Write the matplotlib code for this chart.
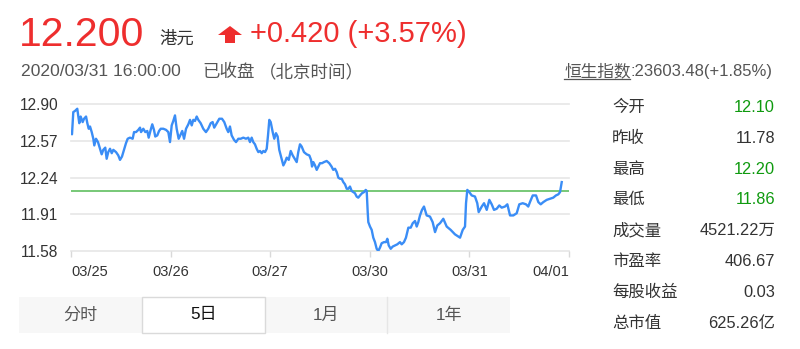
import matplotlib
matplotlib.use("Agg")
import matplotlib.pyplot as plt
from matplotlib.patches import Rectangle, Polygon
from matplotlib.lines import Line2D

plt.rcParams['font.family'] = ['Liberation Sans', 'Noto Sans CJK SC', 'DejaVu Sans']

# ---------------- data ----------------
price_now = "12.200"
currency = "港元"
change_text = "+0.420 (+3.57%)"
timestamp = "2020/03/31 16:00:00"
status = "已收盘"
tz_note = "（北京时间）"
index_name = "恒生指数"
index_value = ":23603.48(+1.85%)"

day_labels = ["03/25", "03/26", "03/27", "03/30", "03/31", "04/01"]
y_ticks = [11.58, 11.91, 12.24, 12.57, 12.90]
ref_price = 12.12

d1_t = [0.000,0.010,0.023,0.040,0.063,0.083,0.097,0.117,0.131,0.151,
        0.164,0.178,0.191,0.208,0.224,0.234,0.251,0.271,0.291,0.308,
        0.324,0.344,0.358,0.374,0.392,0.409,0.425,0.452,0.475,0.492,
        0.512,0.532,0.552,0.569,0.592,0.619,0.633,0.653,0.676,0.693,
        0.703,0.726,0.746,0.766,0.780,0.800,0.816,0.833,0.846,0.866,
        0.884,0.901,0.927,0.954,0.977,0.994]
d1_p = [12.64,12.63,12.83,12.84,12.86,12.73,12.79,12.74,12.77,12.79,
        12.73,12.68,12.70,12.65,12.59,12.53,12.59,12.56,12.50,12.45,
        12.49,12.51,12.41,12.47,12.50,12.46,12.49,12.47,12.44,12.40,
        12.43,12.49,12.55,12.59,12.60,12.59,12.65,12.65,12.67,12.69,
        12.65,12.68,12.65,12.66,12.60,12.67,12.72,12.67,12.61,12.62,
        12.66,12.68,12.68,12.67,12.65,12.56]
d2_t = [1.011,1.027,1.044,1.061,1.081,1.101,1.117,1.135,1.155,1.178,
        1.195,1.212,1.228,1.245,1.262,1.278,1.302,1.328,1.355,1.378,
        1.403,1.422,1.438,1.463,1.489,1.516,1.539,1.563,1.579,1.596,
        1.613,1.637,1.657,1.680,1.704,1.730,1.757,1.780,1.797,1.814,
        1.830,1.847,1.864,1.881,1.898,1.915,1.931,1.948,1.965,1.978]
d2_p = [12.71,12.75,12.80,12.68,12.59,12.63,12.66,12.59,12.68,12.72,
        12.76,12.71,12.76,12.75,12.79,12.76,12.73,12.68,12.65,12.68,
        12.73,12.74,12.69,12.73,12.77,12.77,12.74,12.68,12.65,12.70,
        12.62,12.58,12.56,12.59,12.59,12.60,12.59,12.60,12.56,12.60,
        12.56,12.54,12.50,12.47,12.48,12.46,12.48,12.47,12.50,12.62]
d3_t = [1.991,2.005,2.025,2.041,2.058,2.075,2.091,2.115,2.132,2.149,
        2.166,2.186,2.206,2.226,2.246,2.266,2.282,2.299,2.316,2.339,
        2.366,2.393,2.410,2.420,2.433,2.450,2.467,2.483,2.500,2.520,
        2.540,2.567,2.593,2.616,2.633,2.651,2.668,2.684,2.701,2.718,
        2.734,2.751,2.768,2.784,2.801,2.818,2.834,2.851,2.868,2.884,
        2.902,2.922,2.942,2.959,2.969]
d3_p = [12.76,12.74,12.65,12.59,12.64,12.61,12.49,12.41,12.35,12.38,
        12.42,12.40,12.48,12.44,12.41,12.38,12.47,12.54,12.52,12.47,
        12.45,12.44,12.40,12.34,12.38,12.35,12.31,12.34,12.37,12.37,
        12.38,12.39,12.37,12.34,12.31,12.32,12.29,12.24,12.23,12.23,
        12.20,12.18,12.14,12.14,12.16,12.12,12.11,12.10,12.07,12.06,
        12.08,12.10,12.11,12.13,12.12]
d4_t = [2.979,2.985,3.002,3.019,3.035,3.052,3.069,3.085,3.102,3.119,
        3.143,3.163,3.176,3.190,3.210,3.230,3.253,3.276,3.303,3.320,
        3.343,3.363,3.387,3.411,3.431,3.454,3.471,3.487,3.504,3.524,
        3.544,3.571,3.604,3.631,3.655,3.678,3.705,3.738,3.772,3.812,
        3.855,3.889,3.906,3.933,3.956,3.966,3.979]
d4_p = [11.93,11.84,11.80,11.77,11.70,11.66,11.60,11.58,11.61,11.65,
        11.66,11.66,11.69,11.63,11.60,11.62,11.63,11.64,11.66,11.64,
        11.66,11.70,11.79,11.79,11.83,11.85,11.80,11.84,11.90,11.95,
        11.98,11.90,11.89,11.84,11.75,11.81,11.83,11.87,11.80,11.77,
        11.73,11.71,11.70,11.77,11.80,12.01,12.13]
d5_t = [3.999,4.023,4.056,4.079,4.093,4.124,4.147,4.174,4.200,4.224,
        4.247,4.274,4.300,4.324,4.357,4.381,4.408,4.441,4.475,4.501,
        4.535,4.568,4.591,4.608,4.636,4.669,4.692,4.716,4.742,4.776,
        4.809,4.842,4.869,4.893,4.910,4.927]
d5_p = [12.11,12.08,12.07,12.01,11.93,11.98,12.01,11.95,12.04,12.00,
        11.95,11.96,11.99,11.97,11.98,12.00,11.90,11.90,11.92,12.00,
        12.01,12.00,11.98,12.02,12.08,12.08,12.02,12.00,12.02,12.04,
        12.05,12.06,12.08,12.09,12.11,12.20]

stat_labels = ["今开", "昨收", "最高", "最低", "成交量", "市盈率", "每股收益", "总市值"]
stat_values = ["12.10", "11.78", "12.20", "11.86", "4521.22万", "406.67", "0.03", "625.26亿"]
tab_labels = ["分时", "5日", "1月", "1年"]
active_tab = 1

# ---------------- styles ----------------
RED = '#ee2e2e'
GREEN_TXT = '#0f9a0f'
DARK = '#333333'
GREY = '#555555'
stat_colors = [GREEN_TXT, DARK, GREEN_TXT, GREEN_TXT, DARK, DARK, DARK, DARK]

W, H = 800, 349
def fx(x): return x / W
def fy(y): return 1 - y / H

fig = plt.figure(figsize=(W / 100, H / 100), dpi=100)
fig.patch.set_facecolor('white')

# ---------------- header ----------------
fig.text(fx(19), fy(46.5), price_now, color=RED, fontsize=29.5, va='baseline', ha='left')
fig.text(fx(159), fy(43.5), currency, color=DARK, fontsize=12.5, va='baseline', ha='left')
arrow = Polygon([(fx(218), fy(35)), (fx(230), fy(26)), (fx(242), fy(35)),
                 (fx(235), fy(35)), (fx(235), fy(43)), (fx(225), fy(43)), (fx(225), fy(35))],
                closed=True, transform=fig.transFigure, facecolor=RED, edgecolor='none')
fig.patches.append(arrow)
fig.text(fx(250), fy(42), change_text, color=RED, fontsize=21, va='baseline', ha='left')

fig.text(fx(21), fy(76), timestamp, color=GREY, fontsize=12.6, va='baseline', ha='left')
fig.text(fx(202), fy(77), status, color=GREY, fontsize=12.6, va='baseline', ha='left')
fig.text(fx(259), fy(77), tz_note, color=GREY, fontsize=12.6, va='baseline', ha='left')

fig.text(fx(564), fy(76.5), index_name, color=GREY, fontsize=12, va='baseline', ha='left')
fig.add_artist(Line2D([fx(564), fx(630)], [fy(79), fy(79)], color=GREY, lw=0.9,
                      transform=fig.transFigure))
fig.text(fx(772), fy(76), index_value, color=GREY, fontsize=12, va='baseline', ha='right')

# ---------------- chart ----------------
ax = fig.add_axes([fx(71), fy(251), (569 - 71) / W, (251 - 104.3) / H])
ax.set_xlim(0, 5)
ax.set_ylim(y_ticks[0], y_ticks[-1])
for s in ax.spines.values():
    s.set_visible(False)
ax.set_yticks(y_ticks)
ax.set_yticklabels([f"{v:.2f}" for v in y_ticks])
for v in y_ticks:
    ax.axhline(v, color='#e6e6e6', lw=1.2, zorder=0, clip_on=False)
ax.tick_params(axis='y', length=0, pad=9, labelsize=11.2, labelcolor=DARK)
ax.set_xticks(range(len(day_labels)))
ax.set_xticklabels(day_labels)
ax.tick_params(axis='x', length=4, width=1, color='#d9d9d9', pad=6,
               labelsize=10.5, labelcolor=DARK, direction='out')
labels = ax.get_xticklabels()
labels[0].set_ha('left')
labels[-1].set_ha('right')

ax.axhline(ref_price, color='#6cc46c', lw=1.3, zorder=2)
t_all = d1_t + d2_t + d3_t + d4_t + d5_t
p_all = d1_p + d2_p + d3_p + d4_p + d5_p
ax.plot(t_all, p_all, color='#3a8df6', lw=1.7, zorder=3, solid_joinstyle='round')

# ---------------- stats table ----------------
row_y0, row_dy = 107.5, 30.8
for i, (lab, val) in enumerate(zip(stat_labels, stat_values)):
    y = row_y0 + i * row_dy
    fig.text(fx(612), fy(y), lab, color=DARK, fontsize=11.8, va='center', ha='left')
    fig.text(fx(775), fy(y), val, color=stat_colors[i], fontsize=11.8, va='center', ha='right')

# ---------------- tabs ----------------
tab_x0, tab_w, tab_y0, tab_y1 = 19, 122.75, 297, 333
fig.patches.append(Rectangle((fx(tab_x0), fy(tab_y1)), fx(tab_w * len(tab_labels)),
                             (tab_y1 - tab_y0) / H, transform=fig.transFigure,
                             facecolor='#f7f7f7', edgecolor='none'))
for i, lab in enumerate(tab_labels):
    x0 = tab_x0 + i * tab_w
    if i == active_tab:
        fig.patches.append(Rectangle((fx(x0), fy(tab_y1)), fx(tab_w), (tab_y1 - tab_y0) / H,
                                     transform=fig.transFigure, facecolor='white',
                                     edgecolor='#dadada', lw=1))
    elif i > 0 and i - 1 != active_tab:
        fig.add_artist(Line2D([fx(x0), fx(x0)], [fy(tab_y0), fy(tab_y1)], color='#e6e6e6',
                              lw=1, transform=fig.transFigure))
    fig.text(fx(x0 + tab_w / 2), fy(315), lab, color='#111111' if i == active_tab else GREY,
             fontsize=12.3, va='center', ha='center')

fig.savefig('out.png', dpi=100, facecolor='white')
